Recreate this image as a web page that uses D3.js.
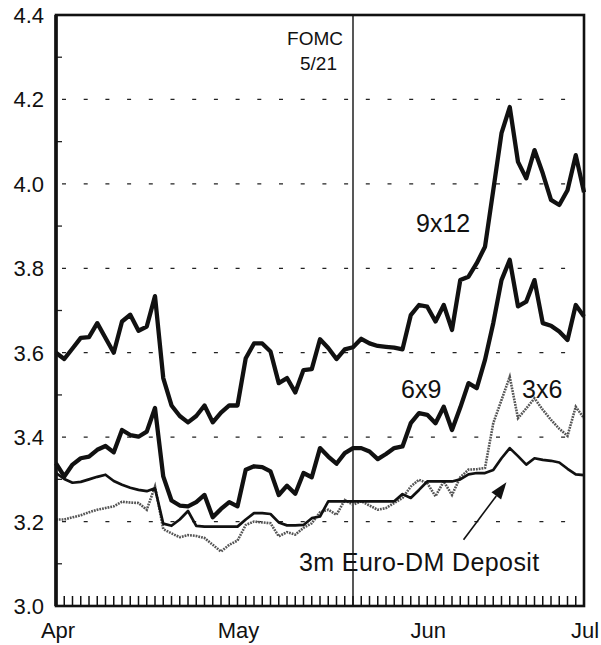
<!doctype html>
<html>
<head>
<meta charset="UTF-8">
<script src="https://d3js.org/d3.v7.min.js"></script>
<style type="text/css">
body { margin: 0; background: #fff; }
svg text { font-family: "Liberation Sans", Arial, Helvetica, sans-serif; fill: #111; }
</style>
</head>
<body>
<script>
// chart size
var w = 601;
var h = 645;

// business days, Apr 1 .. Jun 28 (index 0..64)
var nDays = 65;

// forward rates, %
var fwd9x12 = [3.60, 3.585, 3.61, 3.635, 3.637, 3.67, 3.635, 3.60, 3.674, 3.69,
  3.652, 3.662, 3.734, 3.54, 3.475, 3.45, 3.435, 3.45, 3.475, 3.435,
  3.458, 3.475, 3.475, 3.587, 3.622, 3.622, 3.603, 3.528, 3.54, 3.506,
  3.559, 3.561, 3.632, 3.611, 3.585, 3.608, 3.613, 3.633, 3.622, 3.616,
  3.614, 3.612, 3.608, 3.689, 3.713, 3.709, 3.674, 3.713, 3.654, 3.772,
  3.78, 3.812, 3.851, 3.985, 4.12, 4.182, 4.052, 4.013, 4.08, 4.025,
  3.962, 3.95, 3.985, 4.068, 3.98];

var fwd6x9 = [3.338, 3.307, 3.335, 3.35, 3.354, 3.37, 3.379, 3.364, 3.417, 3.405,
  3.401, 3.413, 3.469, 3.307, 3.25, 3.238, 3.236, 3.246, 3.263, 3.21,
  3.23, 3.246, 3.236, 3.323, 3.331, 3.329, 3.319, 3.263, 3.285, 3.266,
  3.315, 3.305, 3.374, 3.354, 3.337, 3.362, 3.374, 3.374, 3.366, 3.348,
  3.36, 3.374, 3.378, 3.433, 3.457, 3.453, 3.433, 3.472, 3.417, 3.47,
  3.528, 3.516, 3.583, 3.67, 3.772, 3.82, 3.71, 3.721, 3.772, 3.67,
  3.664, 3.65, 3.63, 3.713, 3.686];

var fwd3x6 = [3.205, 3.205, 3.21, 3.215, 3.222, 3.228, 3.232, 3.236, 3.247, 3.245,
  3.244, 3.228, 3.283, 3.182, 3.172, 3.163, 3.168, 3.166, 3.161, 3.145,
  3.129, 3.145, 3.155, 3.192, 3.20, 3.198, 3.196, 3.165, 3.175, 3.169,
  3.185, 3.196, 3.222, 3.228, 3.216, 3.251, 3.24, 3.248, 3.238, 3.228,
  3.232, 3.244, 3.256, 3.283, 3.299, 3.291, 3.26, 3.295, 3.263, 3.305,
  3.323, 3.324, 3.327, 3.433, 3.488, 3.543, 3.445, 3.468, 3.492, 3.465,
  3.441, 3.42, 3.403, 3.472, 3.445];

var deposit3m = [3.315, 3.301, 3.292, 3.294, 3.30, 3.306, 3.311, 3.296, 3.287, 3.28,
  3.275, 3.272, 3.279, 3.195, 3.19, 3.205, 3.225, 3.19, 3.188, 3.188,
  3.188, 3.188, 3.188, 3.205, 3.22, 3.22, 3.218, 3.198, 3.191, 3.191,
  3.192, 3.208, 3.212, 3.248, 3.248, 3.248, 3.248, 3.248, 3.248, 3.248,
  3.248, 3.248, 3.265, 3.256, 3.275, 3.295, 3.295, 3.295, 3.295, 3.30,
  3.312, 3.315, 3.315, 3.322, 3.35, 3.374, 3.355, 3.335, 3.35, 3.346,
  3.344, 3.34, 3.325, 3.312, 3.31];

// tick labels
var yMajor = [3.0, 3.2, 3.4, 3.6, 3.8, 4.0, 4.2, 4.4];
var yMinor = [3.1, 3.3, 3.5, 3.7, 3.9, 4.1, 4.3];
var yGrid = [3.2, 3.4, 3.6, 3.8, 4.0, 4.2];
var monthNames = ["Apr", "May", "Jun", "Jul"];
var monthIdx = [0, 22, 45, 64];
var fomcIdx = 36; // May 21

var svg = d3.select("body").append("svg")
  .attr("width", w)
  .attr("height", h);

var x = d3.scaleLinear().domain([0, nDays - 1]).range([56, 584]);
var y = d3.scaleLinear().domain([3.0, 4.4]).range([606, 15]);

// dashed grid lines
svg.selectAll(".grid")
  .data(yGrid)
  .enter().append("line")
  .attr("x1", x(0) + 6).attr("x2", x(nDays - 1) - 4)
  .attr("y1", function(d) { return y(d); })
  .attr("y2", function(d) { return y(d); })
  .attr("stroke", "#222")
  .attr("stroke-width", 1.3)
  .attr("stroke-dasharray", "4,17.7");

// minor y ticks (little marks inside the left axis)
svg.selectAll(".minor")
  .data(yMinor)
  .enter().append("line")
  .attr("x1", x(0)).attr("x2", x(0) + 6)
  .attr("y1", function(d) { return y(d); })
  .attr("y2", function(d) { return y(d); })
  .attr("stroke", "#222")
  .attr("stroke-width", 1.3);

// daily ticks along the bottom
svg.selectAll(".dtick")
  .data(d3.range(nDays))
  .enter().append("line")
  .attr("x1", function(d) { return x(d); })
  .attr("x2", function(d) { return x(d); })
  .attr("y1", y(3.0))
  .attr("y2", y(3.0) - 10)
  .attr("stroke", "#111")
  .attr("stroke-width", 1.5);

// FOMC line
svg.append("line")
  .attr("x1", x(fomcIdx)).attr("x2", x(fomcIdx))
  .attr("y1", y(4.4)).attr("y2", y(3.0))
  .attr("stroke", "#111")
  .attr("stroke-width", 1.4);

// series
var line = d3.line()
  .x(function(d, i) { return x(i); })
  .y(function(d) { return y(d); });

svg.append("path")
  .datum(fwd3x6)
  .attr("d", line)
  .attr("fill", "none")
  .attr("stroke", "#555")
  .attr("stroke-width", 2.6)
  .attr("stroke-dasharray", "1.8,1");

svg.append("path")
  .datum(deposit3m)
  .attr("d", line)
  .attr("fill", "none")
  .attr("stroke", "#111")
  .attr("stroke-width", 2.7)
  .attr("stroke-linejoin", "round");

[fwd6x9, fwd9x12].forEach(function(s) {
  svg.append("path")
    .datum(s)
    .attr("d", line)
    .attr("fill", "none")
    .attr("stroke", "#111")
    .attr("stroke-width", 4.3)
    .attr("stroke-linejoin", "round");
});

// frame
svg.append("rect")
  .attr("x", x(0)).attr("y", y(4.4))
  .attr("width", x(nDays - 1) - x(0))
  .attr("height", y(3.0) - y(4.4))
  .attr("fill", "none")
  .attr("stroke", "#111")
  .attr("stroke-width", 2.6);
svg.append("line")
  .attr("x1", x(0)).attr("x2", x(0))
  .attr("y1", y(4.4)).attr("y2", y(3.0))
  .attr("stroke", "#111")
  .attr("stroke-width", 3.6);

// y labels
svg.selectAll(".ylab")
  .data(yMajor)
  .enter().append("text")
  .attr("x", 44)
  .attr("y", function(d) { return y(d) + 8; })
  .attr("text-anchor", "end")
  .style("font-size", "22px")
  .text(function(d) { return d.toFixed(1); });

// month labels
svg.selectAll(".mlab")
  .data(monthNames)
  .enter().append("text")
  .attr("x", function(d, i) { return x(monthIdx[i]) + (i == 0 ? 2 : 1); })
  .attr("y", 638)
  .attr("text-anchor", "middle")
  .style("font-size", "22px")
  .text(function(d) { return d; });

// annotations
svg.append("text").attr("x", x(fomcIdx) - 10).attr("y", 45)
  .attr("text-anchor", "end").style("font-size", "19px").text("FOMC");
svg.append("text").attr("x", x(fomcIdx) - 16).attr("y", 70)
  .attr("text-anchor", "end").style("font-size", "19px").text("5/21");

svg.append("text").attr("x", 416).attr("y", 232)
  .style("font-size", "25px").text("9x12");
svg.append("text").attr("x", 401).attr("y", 398)
  .style("font-size", "25px").text("6x9");
svg.append("text").attr("x", 522).attr("y", 398)
  .style("font-size", "25px").text("3x6");
svg.append("text").attr("x", 299).attr("y", 571)
  .style("font-size", "25px").style("letter-spacing", "0.4px").text("3m Euro-DM Deposit");

// arrow to the deposit line
var tail = [x(49.4), y(3.157)];
var tip = [x(54.6), y(3.293)];
var ang = Math.atan2(tip[1] - tail[1], tip[0] - tail[0]);
var hl = 17, hw = 6;
var base = [tip[0] - hl * Math.cos(ang), tip[1] - hl * Math.sin(ang)];
svg.append("line")
  .attr("x1", tail[0]).attr("y1", tail[1])
  .attr("x2", base[0]).attr("y2", base[1])
  .attr("stroke", "#111").attr("stroke-width", 1.6);
svg.append("path")
  .attr("d", "M" + tip[0] + "," + tip[1] +
    "L" + (base[0] + hw * Math.sin(ang)) + "," + (base[1] - hw * Math.cos(ang)) +
    "L" + (base[0] - hw * Math.sin(ang)) + "," + (base[1] + hw * Math.cos(ang)) + "Z")
  .attr("fill", "#111");
</script>
</body>
</html>
